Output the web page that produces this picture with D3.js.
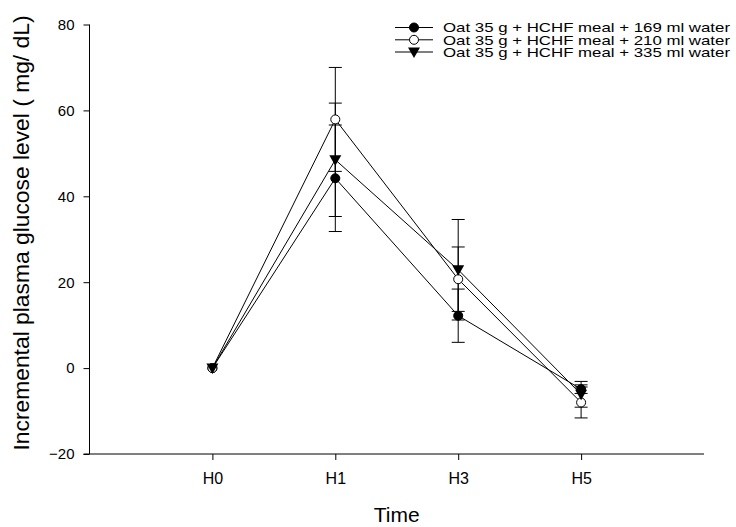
<!DOCTYPE html>
<html><head><meta charset="utf-8">
<script src="https://cdn.jsdelivr.net/npm/d3@7"></script>
<style>body{margin:0;background:#fff}svg{display:block}text{font-family:"Liberation Sans",Arial,sans-serif;fill:#000}</style>
</head><body>
<svg id="c" width="736" height="527"></svg>
<script>
const categories = ["H0","H1","H3","H5"];
const seriesNames = ["Oat 35 g + HCHF meal + 169 ml water","Oat 35 g + HCHF meal + 210 ml water","Oat 35 g + HCHF meal + 335 ml water"];
const values169 = [0, 44.2, 12.2, -4.9];
const errors169 = [0, 12.4, 6.2, 1.0];
const values210 = [0, 57.9, 20.7, -8.0];
const errors210 = [0, 12.1, 7.5, 3.6];
const values335 = [0, 48.5, 22.9, -6.1];
const errors335 = [0, 13.2, 11.7, 3.0];
const yTicks = [-20, 0, 20, 40, 60, 80];
const markerTypes = ["closed","open","triangle"];

const series = [
  {name: seriesNames[0], v: values169, e: errors169, m: markerTypes[0]},
  {name: seriesNames[1], v: values210, e: errors210, m: markerTypes[1]},
  {name: seriesNames[2], v: values335, e: errors335, m: markerTypes[2]}
];

const FONT = '"Liberation Sans",Arial,sans-serif';
const svg = d3.select("#c");
const x = d3.scaleLinear().domain([0, 5]).range([89.5, 704]);
const y = d3.scaleLinear().domain([-20, 80]).range([454, 24.5]);
const xi = i => x(i + 1);

// axes
const yAxis = d3.axisLeft(y).tickValues(yTicks).tickSize(6).tickPadding(9).tickFormat(d3.format("d"));
const gy = svg.append("g").attr("transform", "translate(89.5,0)").call(yAxis);
gy.select(".domain").attr("d", `M0,${y(80)}V${y(-20)}`).attr("stroke", "#000");
gy.selectAll("text").style("font-size", "15px").style("font-family", FONT);

const xAxis = d3.axisBottom(x).tickValues([1,2,3,4]).tickFormat((d) => categories[d-1]).tickSize(6).tickPadding(13);
const gx = svg.append("g").attr("transform", `translate(0,${y(-20)})`).call(xAxis);
gx.select(".domain").attr("d", `M${x(0)-6},0H${x(5)}`).attr("stroke", "#000");
gx.selectAll("text").style("font-size", "16px").style("font-family", FONT);

// titles
svg.append("text").attr("transform", `translate(29,233) rotate(-90)`)
  .attr("text-anchor","middle").style("font-size","22px")
  .attr("textLength", 435).attr("lengthAdjust","spacingAndGlyphs")
  .text("Incremental plasma glucose level ( mg/ dL)");
svg.append("text").attr("x", (x(0)+x(5))/2).attr("y", 522).attr("text-anchor","middle")
  .style("font-size","21px").text("Time");

const line = d3.line().x((d,i) => xi(i)).y(d => y(d));
const plot = svg.append("g");

// lines
series.forEach(s => {
  plot.append("path").attr("d", line(s.v)).attr("fill","none").attr("stroke","#000").attr("stroke-width",1);
});
// error bars
series.forEach(s => {
  s.v.forEach((v,i) => {
    const e = s.e[i];
    if (!e) return;
    const cx = xi(i);
    const g = plot.append("g").attr("stroke","#000").attr("stroke-width",1);
    g.append("line").attr("x1",cx).attr("x2",cx).attr("y1",y(v+e)).attr("y2",y(v-e));
    g.append("line").attr("x1",cx-6.5).attr("x2",cx+6.5).attr("y1",y(v+e)).attr("y2",y(v+e));
    g.append("line").attr("x1",cx-6.5).attr("x2",cx+6.5).attr("y1",y(v-e)).attr("y2",y(v-e));
  });
});

function marker(g, type, cx, cy) {
  if (type === "triangle") {
    g.append("path").attr("d", `M${cx-6},${cy-4.5}L${cx+6},${cy-4.5}L${cx},${cy+6}Z`).attr("fill","#000");
  } else {
    g.append("circle").attr("cx",cx).attr("cy",cy).attr("r",4.5)
      .attr("fill", type === "closed" ? "#000" : "#fff").attr("stroke","#000").attr("stroke-width",1);
  }
}
series.forEach(s => {
  s.v.forEach((v,i) => marker(plot, s.m, xi(i), y(v)));
});

// legend
const leg = svg.append("g");
const legY = [27.5, 39.8, 52];
series.forEach((s, k) => {
  const ly = legY[k];
  leg.append("line").attr("x1",395).attr("x2",433).attr("y1",ly).attr("y2",ly).attr("stroke","#000");
  marker(leg, s.m, 414, ly);
  leg.append("text").attr("x",443).attr("y",ly+4.8).style("font-size","13.5px")
    .attr("textLength", 287).attr("lengthAdjust","spacingAndGlyphs").text(s.name);
});
</script>
</body></html>
